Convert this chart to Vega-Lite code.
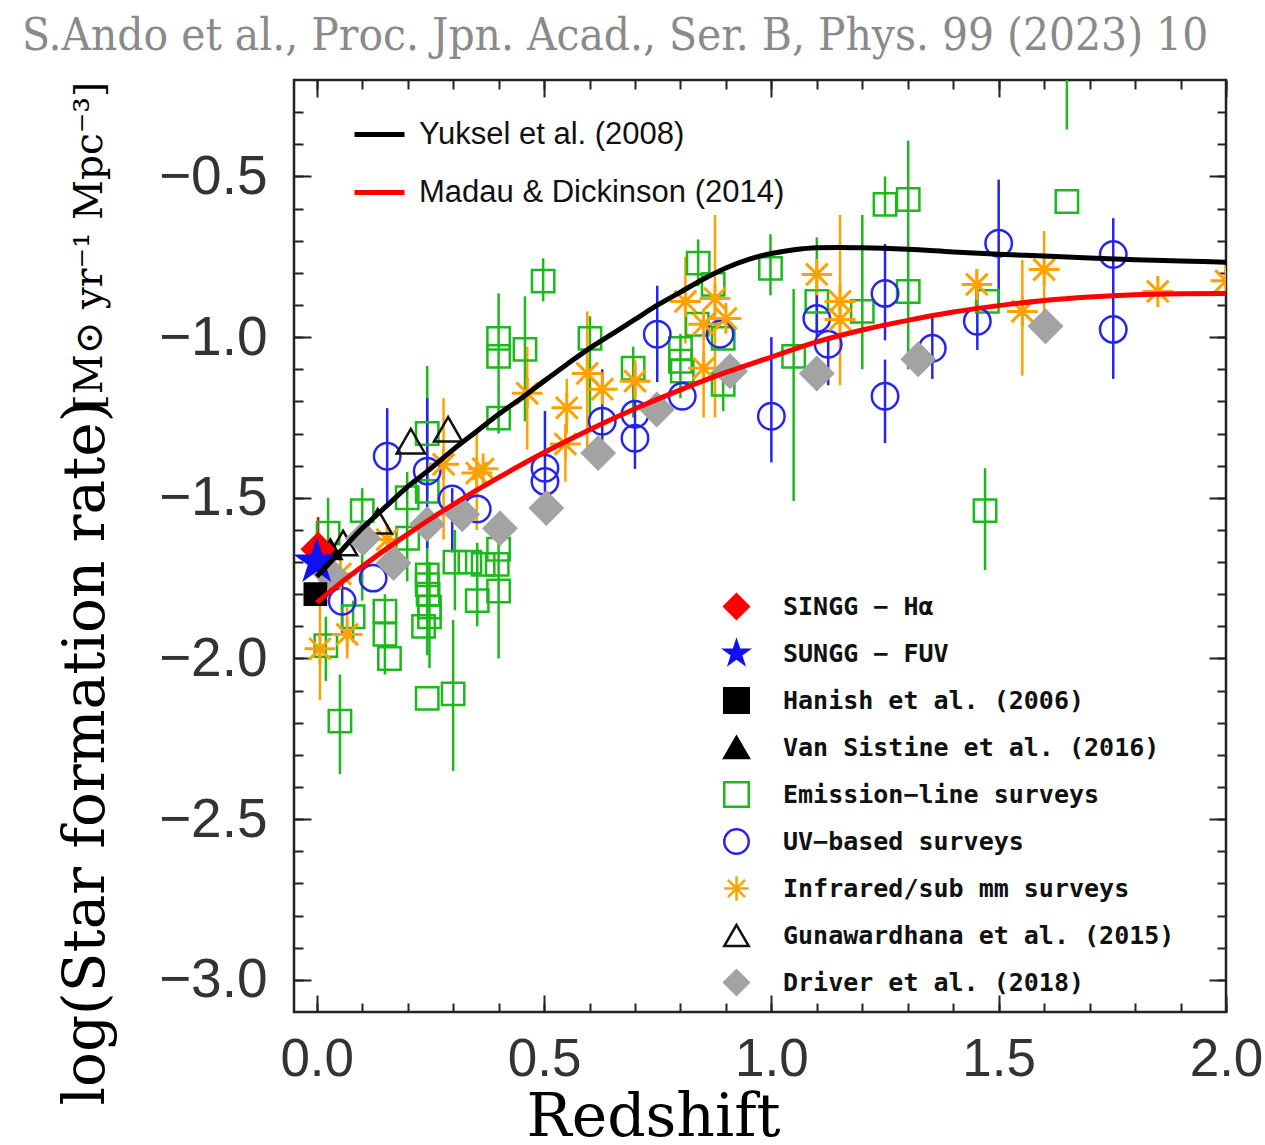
{
  "$schema": "https://vega.github.io/schema/vega-lite/v6.json",
  "autosize": {"type": "none"},
  "width": 932,
  "height": 932,
  "padding": {"left": 294, "top": 80, "right": 39, "bottom": 133},
  "background": "white",
  "title": {
    "text": "S.Ando et al., Proc. Jpn. Acad., Ser. B, Phys. 99 (2023) 10",
    "anchor": "start", "frame": "group", "dx": -272, "offset": 20,
    "font": "DejaVu Serif Condensed, DejaVu Serif", "fontSize": 45.5, "fontWeight": "normal", "color": "#8a8a8a"
  },
  "config": {
    "view": {"stroke": "#222", "strokeWidth": 2.5},
    "axis": {"grid": false, "domain": false, "tickColor": "#222", "tickWidth": 2}
  },
  "datasets": {
    "pts": [
      {"s": "Emission−line surveys", "z": 0.025, "y": -1.61, "hi": -1.5, "lo": -1.71},
      {"s": "Emission−line surveys", "z": 0.02, "y": -1.96, "hi": -1.87, "lo": -2.07},
      {"s": "Emission−line surveys", "z": 0.051, "y": -2.195, "hi": -2.05, "lo": -2.36},
      {"s": "Emission−line surveys", "z": 0.08, "y": -1.87, "hi": -1.82, "lo": -1.95},
      {"s": "Emission−line surveys", "z": 0.1, "y": -1.54, "hi": -1.47, "lo": -1.82},
      {"s": "Emission−line surveys", "z": 0.15, "y": -1.853, "hi": -1.8, "lo": -2.05},
      {"s": "Emission−line surveys", "z": 0.15, "y": -1.925},
      {"s": "Emission−line surveys", "z": 0.16, "y": -2.0},
      {"s": "Emission−line surveys", "z": 0.199, "y": -1.5, "hi": -1.42, "lo": -1.76},
      {"s": "Emission−line surveys", "z": 0.2, "y": -1.626},
      {"s": "Emission−line surveys", "z": 0.243, "y": -1.3, "hi": -1.09, "lo": -1.5},
      {"s": "Emission−line surveys", "z": 0.243, "y": -1.48},
      {"s": "Emission−line surveys", "z": 0.243, "y": -1.74, "hi": -1.6, "lo": -1.99},
      {"s": "Emission−line surveys", "z": 0.243, "y": -1.77},
      {"s": "Emission−line surveys", "z": 0.245, "y": -1.8},
      {"s": "Emission−line surveys", "z": 0.248, "y": -1.84, "hi": -1.7, "lo": -2.03},
      {"s": "Emission−line surveys", "z": 0.248, "y": -1.87},
      {"s": "Emission−line surveys", "z": 0.235, "y": -1.9},
      {"s": "Emission−line surveys", "z": 0.243, "y": -2.124},
      {"s": "Emission−line surveys", "z": 0.3, "y": -2.11, "hi": -1.88, "lo": -2.35},
      {"s": "Emission−line surveys", "z": 0.304, "y": -1.7, "hi": -1.6, "lo": -1.85},
      {"s": "Emission−line surveys", "z": 0.337, "y": -1.7},
      {"s": "Emission−line surveys", "z": 0.353, "y": -1.82, "hi": -1.64, "lo": -1.9},
      {"s": "Emission−line surveys", "z": 0.366, "y": -1.707},
      {"s": "Emission−line surveys", "z": 0.397, "y": -1.707},
      {"s": "Emission−line surveys", "z": 0.4, "y": -1.66, "hi": -1.62, "lo": -2.0},
      {"s": "Emission−line surveys", "z": 0.4, "y": -1.79},
      {"s": "Emission−line surveys", "z": 0.4, "y": -1.252},
      {"s": "Emission−line surveys", "z": 0.4, "y": -1.004, "hi": -0.864, "lo": -1.3},
      {"s": "Emission−line surveys", "z": 0.4, "y": -1.06},
      {"s": "Emission−line surveys", "z": 0.458, "y": -1.038, "hi": -0.873, "lo": -1.262},
      {"s": "Emission−line surveys", "z": 0.498, "y": -0.826, "hi": -0.755, "lo": -0.889},
      {"s": "Emission−line surveys", "z": 0.601, "y": -1.004, "hi": -0.935, "lo": -1.252},
      {"s": "Emission−line surveys", "z": 0.696, "y": -1.097, "hi": -1.03, "lo": -1.25},
      {"s": "Emission−line surveys", "z": 0.8, "y": -1.035, "hi": -0.99, "lo": -1.19},
      {"s": "Emission−line surveys", "z": 0.8, "y": -1.075},
      {"s": "Emission−line surveys", "z": 0.804, "y": -1.106},
      {"s": "Emission−line surveys", "z": 0.839, "y": -0.77, "hi": -0.696, "lo": -0.842},
      {"s": "Emission−line surveys", "z": 0.837, "y": -0.96},
      {"s": "Emission−line surveys", "z": 0.872, "y": -0.836},
      {"s": "Emission−line surveys", "z": 0.894, "y": -1.004},
      {"s": "Emission−line surveys", "z": 0.894, "y": -1.147, "hi": -1.085, "lo": -1.23},
      {"s": "Emission−line surveys", "z": 0.998, "y": -0.786, "hi": -0.68, "lo": -0.87},
      {"s": "Emission−line surveys", "z": 1.049, "y": -1.06, "hi": -0.85, "lo": -1.51},
      {"s": "Emission−line surveys", "z": 1.1, "y": -0.889, "hi": -0.69, "lo": -0.98},
      {"s": "Emission−line surveys", "z": 1.2, "y": -0.92, "hi": -0.62, "lo": -1.1},
      {"s": "Emission−line surveys", "z": 1.25, "y": -0.587, "hi": -0.5, "lo": -0.62},
      {"s": "Emission−line surveys", "z": 1.301, "y": -0.572, "hi": -0.389, "lo": -1.1},
      {"s": "Emission−line surveys", "z": 1.301, "y": -0.858},
      {"s": "Emission−line surveys", "z": 1.475, "y": -0.889},
      {"s": "Emission−line surveys", "z": 1.47, "y": -1.54, "hi": -1.408, "lo": -1.725},
      {"s": "Emission−line surveys", "z": 1.65, "y": -0.578},
      {"s": "Emission−line surveys", "z": 1.65, "y": -0.05, "hi": 0.0, "lo": -0.354},
      {"s": "UV−based surveys", "z": 0.056, "y": -1.822, "hi": -1.76, "lo": -1.92},
      {"s": "UV−based surveys", "z": 0.124, "y": -1.75},
      {"s": "UV−based surveys", "z": 0.155, "y": -1.371, "hi": -1.221, "lo": -1.532},
      {"s": "UV−based surveys", "z": 0.243, "y": -1.417, "hi": -1.19, "lo": -1.657},
      {"s": "UV−based surveys", "z": 0.298, "y": -1.504, "hi": -1.47, "lo": -1.67},
      {"s": "UV−based surveys", "z": 0.353, "y": -1.535},
      {"s": "UV−based surveys", "z": 0.502, "y": -1.408, "hi": -1.23, "lo": -1.54},
      {"s": "UV−based surveys", "z": 0.502, "y": -1.449},
      {"s": "UV−based surveys", "z": 0.628, "y": -1.262, "hi": -1.1, "lo": -1.4},
      {"s": "UV−based surveys", "z": 0.7, "y": -1.24, "hi": -1.08, "lo": -1.41},
      {"s": "UV−based surveys", "z": 0.7, "y": -1.315},
      {"s": "UV−based surveys", "z": 0.804, "y": -1.184},
      {"s": "UV−based surveys", "z": 0.749, "y": -0.991, "hi": -0.84, "lo": -1.14},
      {"s": "UV−based surveys", "z": 0.887, "y": -0.991},
      {"s": "UV−based surveys", "z": 1.0, "y": -1.246, "hi": -1.0, "lo": -1.39},
      {"s": "UV−based surveys", "z": 1.1, "y": -0.942, "hi": -0.86, "lo": -1.0},
      {"s": "UV−based surveys", "z": 1.125, "y": -1.022, "hi": -1.0, "lo": -1.15},
      {"s": "UV−based surveys", "z": 1.25, "y": -0.864, "hi": -0.71, "lo": -1.01},
      {"s": "UV−based surveys", "z": 1.25, "y": -1.184, "hi": -1.07, "lo": -1.33},
      {"s": "UV−based surveys", "z": 1.354, "y": -1.035, "hi": -0.94, "lo": -1.13},
      {"s": "UV−based surveys", "z": 1.453, "y": -0.951, "hi": -0.86, "lo": -1.04},
      {"s": "UV−based surveys", "z": 1.5, "y": -0.708, "hi": -0.51, "lo": -0.9},
      {"s": "UV−based surveys", "z": 1.752, "y": -0.743, "hi": -0.63, "lo": -1.13},
      {"s": "UV−based surveys", "z": 1.752, "y": -0.976},
      {"s": "Infrared/sub mm surveys", "z": 0.007, "y": -1.97, "hi": -1.73, "lo": -2.13},
      {"s": "Infrared/sub mm surveys", "z": 0.067, "y": -1.925, "hi": -1.84, "lo": -2.0},
      {"s": "Infrared/sub mm surveys", "z": 0.052, "y": -1.737},
      {"s": "Infrared/sub mm surveys", "z": 0.155, "y": -1.63},
      {"s": "Infrared/sub mm surveys", "z": 0.279, "y": -1.396, "hi": -1.19, "lo": -1.63},
      {"s": "Infrared/sub mm surveys", "z": 0.352, "y": -1.423, "hi": -1.29, "lo": -1.6},
      {"s": "Infrared/sub mm surveys", "z": 0.366, "y": -1.41},
      {"s": "Infrared/sub mm surveys", "z": 0.547, "y": -1.333, "hi": -1.27, "lo": -1.45},
      {"s": "Infrared/sub mm surveys", "z": 0.55, "y": -1.22, "hi": -1.13, "lo": -1.3},
      {"s": "Infrared/sub mm surveys", "z": 0.463, "y": -1.175, "hi": -1.03, "lo": -1.35},
      {"s": "Infrared/sub mm surveys", "z": 0.595, "y": -1.113, "hi": -0.92, "lo": -1.35},
      {"s": "Infrared/sub mm surveys", "z": 0.628, "y": -1.162},
      {"s": "Infrared/sub mm surveys", "z": 0.7, "y": -1.137, "hi": -1.07, "lo": -1.2},
      {"s": "Infrared/sub mm surveys", "z": 0.811, "y": -0.889, "hi": -0.75, "lo": -1.02},
      {"s": "Infrared/sub mm surveys", "z": 0.851, "y": -0.96},
      {"s": "Infrared/sub mm surveys", "z": 0.876, "y": -0.88, "hi": -0.62, "lo": -1.25},
      {"s": "Infrared/sub mm surveys", "z": 0.9, "y": -0.942},
      {"s": "Infrared/sub mm surveys", "z": 0.851, "y": -1.097, "hi": -1.0, "lo": -1.25},
      {"s": "Infrared/sub mm surveys", "z": 1.1, "y": -0.805, "hi": -0.76, "lo": -0.87},
      {"s": "Infrared/sub mm surveys", "z": 1.151, "y": -0.889, "hi": -0.62, "lo": -1.15},
      {"s": "Infrared/sub mm surveys", "z": 1.151, "y": -0.945},
      {"s": "Infrared/sub mm surveys", "z": 1.452, "y": -0.836, "hi": -0.79, "lo": -0.9},
      {"s": "Infrared/sub mm surveys", "z": 1.552, "y": -0.92, "hi": -0.76, "lo": -1.12},
      {"s": "Infrared/sub mm surveys", "z": 1.6, "y": -0.79, "hi": -0.67, "lo": -0.95},
      {"s": "Infrared/sub mm surveys", "z": 1.85, "y": -0.858},
      {"s": "Infrared/sub mm surveys", "z": 2.0, "y": -0.825},
      {"s": "Gunawardhana et al. (2015)", "z": 0.058, "y": -1.641},
      {"s": "Gunawardhana et al. (2015)", "z": 0.134, "y": -1.573},
      {"s": "Gunawardhana et al. (2015)", "z": 0.207, "y": -1.324},
      {"s": "Gunawardhana et al. (2015)", "z": 0.289, "y": -1.287},
      {"s": "Driver et al. (2018)", "z": 0.03, "y": -1.738},
      {"s": "Driver et al. (2018)", "z": 0.102, "y": -1.626},
      {"s": "Driver et al. (2018)", "z": 0.169, "y": -1.703},
      {"s": "Driver et al. (2018)", "z": 0.243, "y": -1.582},
      {"s": "Driver et al. (2018)", "z": 0.32, "y": -1.551},
      {"s": "Driver et al. (2018)", "z": 0.403, "y": -1.595},
      {"s": "Driver et al. (2018)", "z": 0.505, "y": -1.532},
      {"s": "Driver et al. (2018)", "z": 0.619, "y": -1.361},
      {"s": "Driver et al. (2018)", "z": 0.748, "y": -1.225},
      {"s": "Driver et al. (2018)", "z": 0.909, "y": -1.106},
      {"s": "Driver et al. (2018)", "z": 1.1, "y": -1.113},
      {"s": "Driver et al. (2018)", "z": 1.323, "y": -1.069},
      {"s": "Driver et al. (2018)", "z": 1.603, "y": -0.966},
      {"s": "Van Sistine et al. (2016)", "z": 0.03, "y": -1.66},
      {"s": "SINGG − Hα", "z": 0.003, "y": -1.66, "hi": -1.56, "lo": -1.75},
      {"s": "SUNGG − FUV", "z": 0.0, "y": -1.7},
      {"s": "Hanish et al. (2006)", "z": -0.003, "y": -1.8}
    ],
    "curves": [
      {"m": "Yuksel et al. (2008)", "z": 0, "y": -1.745},
      {"m": "Yuksel et al. (2008)", "z": 0.05, "y": -1.67},
      {"m": "Yuksel et al. (2008)", "z": 0.1, "y": -1.595},
      {"m": "Yuksel et al. (2008)", "z": 0.15, "y": -1.53},
      {"m": "Yuksel et al. (2008)", "z": 0.2, "y": -1.465},
      {"m": "Yuksel et al. (2008)", "z": 0.25, "y": -1.41},
      {"m": "Yuksel et al. (2008)", "z": 0.3, "y": -1.35},
      {"m": "Yuksel et al. (2008)", "z": 0.35, "y": -1.295},
      {"m": "Yuksel et al. (2008)", "z": 0.4, "y": -1.24},
      {"m": "Yuksel et al. (2008)", "z": 0.45, "y": -1.19},
      {"m": "Yuksel et al. (2008)", "z": 0.5, "y": -1.137},
      {"m": "Yuksel et al. (2008)", "z": 0.55, "y": -1.085},
      {"m": "Yuksel et al. (2008)", "z": 0.6, "y": -1.035},
      {"m": "Yuksel et al. (2008)", "z": 0.65, "y": -0.99},
      {"m": "Yuksel et al. (2008)", "z": 0.7, "y": -0.945},
      {"m": "Yuksel et al. (2008)", "z": 0.75, "y": -0.9},
      {"m": "Yuksel et al. (2008)", "z": 0.8, "y": -0.86},
      {"m": "Yuksel et al. (2008)", "z": 0.85, "y": -0.82},
      {"m": "Yuksel et al. (2008)", "z": 0.9, "y": -0.785},
      {"m": "Yuksel et al. (2008)", "z": 0.95, "y": -0.758},
      {"m": "Yuksel et al. (2008)", "z": 1.0, "y": -0.74},
      {"m": "Yuksel et al. (2008)", "z": 1.05, "y": -0.728},
      {"m": "Yuksel et al. (2008)", "z": 1.1, "y": -0.722},
      {"m": "Yuksel et al. (2008)", "z": 1.15, "y": -0.721},
      {"m": "Yuksel et al. (2008)", "z": 1.2, "y": -0.722},
      {"m": "Yuksel et al. (2008)", "z": 1.3, "y": -0.727},
      {"m": "Yuksel et al. (2008)", "z": 1.4, "y": -0.735},
      {"m": "Yuksel et al. (2008)", "z": 1.5, "y": -0.742},
      {"m": "Yuksel et al. (2008)", "z": 1.6, "y": -0.748},
      {"m": "Yuksel et al. (2008)", "z": 1.7, "y": -0.754},
      {"m": "Yuksel et al. (2008)", "z": 1.8, "y": -0.759},
      {"m": "Yuksel et al. (2008)", "z": 1.9, "y": -0.763},
      {"m": "Yuksel et al. (2008)", "z": 2.0, "y": -0.767},
      {"m": "Madau & Dickinson (2014)", "z": 0, "y": -1.826},
      {"m": "Madau & Dickinson (2014)", "z": 0.05, "y": -1.768},
      {"m": "Madau & Dickinson (2014)", "z": 0.1, "y": -1.714},
      {"m": "Madau & Dickinson (2014)", "z": 0.15, "y": -1.662},
      {"m": "Madau & Dickinson (2014)", "z": 0.2, "y": -1.613},
      {"m": "Madau & Dickinson (2014)", "z": 0.25, "y": -1.566},
      {"m": "Madau & Dickinson (2014)", "z": 0.3, "y": -1.521},
      {"m": "Madau & Dickinson (2014)", "z": 0.35, "y": -1.478},
      {"m": "Madau & Dickinson (2014)", "z": 0.4, "y": -1.437},
      {"m": "Madau & Dickinson (2014)", "z": 0.45, "y": -1.397},
      {"m": "Madau & Dickinson (2014)", "z": 0.5, "y": -1.359},
      {"m": "Madau & Dickinson (2014)", "z": 0.6, "y": -1.288},
      {"m": "Madau & Dickinson (2014)", "z": 0.7, "y": -1.223},
      {"m": "Madau & Dickinson (2014)", "z": 0.8, "y": -1.164},
      {"m": "Madau & Dickinson (2014)", "z": 0.9, "y": -1.11},
      {"m": "Madau & Dickinson (2014)", "z": 1.0, "y": -1.062},
      {"m": "Madau & Dickinson (2014)", "z": 1.1, "y": -1.015},
      {"m": "Madau & Dickinson (2014)", "z": 1.2, "y": -0.978},
      {"m": "Madau & Dickinson (2014)", "z": 1.3, "y": -0.948},
      {"m": "Madau & Dickinson (2014)", "z": 1.4, "y": -0.922},
      {"m": "Madau & Dickinson (2014)", "z": 1.5, "y": -0.902},
      {"m": "Madau & Dickinson (2014)", "z": 1.6, "y": -0.886},
      {"m": "Madau & Dickinson (2014)", "z": 1.7, "y": -0.875},
      {"m": "Madau & Dickinson (2014)", "z": 1.8, "y": -0.868},
      {"m": "Madau & Dickinson (2014)", "z": 1.9, "y": -0.865},
      {"m": "Madau & Dickinson (2014)", "z": 2.0, "y": -0.864}
    ]
  },
  "resolve": {"axis": {"x": "independent", "y": "independent"}},
  "layer": [
    {
      "data": {"name": "pts"},
      "transform": [{"filter": "isValid(datum.lo)"}],
      "mark": {"type": "rule", "strokeWidth": 2.5, "clip": true},
      "encoding": {
        "x": {"field": "z", "type": "quantitative",
          "scale": {"domain": [-0.05, 2.0], "nice": false, "zero": false},
          "axis": {"orient": "bottom", "values": [0, 0.5, 1, 1.5, 2], "format": ".1f", "tickSize": -17,
            "labelPadding": 38, "labelFont": "Liberation Sans", "labelFontSize": 53, "labelColor": "#333",
            "labelFlush": false, "labelOverlap": false,
            "title": "Redshift", "titleFont": "DejaVu Serif", "titleFontSize": 60, "titleFontWeight": "normal",
            "titleColor": "#000", "titleX": 359, "titleY": 123, "titleBaseline": "alphabetic", "titleAlign": "center"}},
        "y": {"field": "lo", "type": "quantitative",
          "scale": {"domain": [-3.1, -0.2], "nice": false, "zero": false},
          "axis": {"orient": "left", "values": [-3, -2.5, -2, -1.5, -1, -0.5], "format": ".1f", "tickSize": -17,
            "labelPadding": 44, "labelFont": "Liberation Sans", "labelFontSize": 55, "labelColor": "#333",
            "labelFlush": false, "labelOverlap": false,
            "title": "log(Star formation rate)", "titleFont": "DejaVu Serif", "titleFontSize": 58, "titleFontWeight": "normal",
            "titleColor": "#000", "titleAngle": 270, "titleX": -191, "titleY": 1025, "titleAlign": "left", "titleBaseline": "alphabetic", "titleLimit": 0}},
        "y2": {"field": "hi"},
        "stroke": {"field": "s", "type": "nominal",
          "scale": {
            "domain": ["SINGG − Hα", "SUNGG − FUV", "Hanish et al. (2006)", "Van Sistine et al. (2016)", "Emission−line surveys", "UV−based surveys", "Infrared/sub mm surveys", "Gunawardhana et al. (2015)", "Driver et al. (2018)"],
            "range": ["#ff0000", "#1010f0", "#000000", "#000000", "#1cb81c", "#2525ee", "#ffa200", "#111111", "#a3a3a3"]}}
      }
    },
    {
      "data": {"name": "pts"},
      "mark": {"type": "point", "opacity": 1, "clip": true},
      "encoding": {
        "x": {"field": "z", "type": "quantitative",
          "scale": {"domain": [-0.05, 2.0], "nice": false, "zero": false},
          "axis": {"orient": "top", "values": [0, 0.5, 1, 1.5, 2], "tickSize": -17, "labels": false, "title": null}},
        "y": {"field": "y", "type": "quantitative",
          "scale": {"domain": [-3.1, -0.2], "nice": false, "zero": false},
          "axis": {"orient": "right", "values": [-3, -2.5, -2, -1.5, -1, -0.5], "tickSize": -17, "labels": false, "title": null}},
        "shape": {"field": "s", "type": "nominal",
          "scale": {
            "domain": ["SINGG − Hα", "SUNGG − FUV", "Hanish et al. (2006)", "Van Sistine et al. (2016)", "Emission−line surveys", "UV−based surveys", "Infrared/sub mm surveys", "Gunawardhana et al. (2015)", "Driver et al. (2018)"],
            "range": ["diamond", "M0,-1L0.2245,-0.309L0.951,-0.309L0.363,0.118L0.588,0.809L0,0.382L-0.588,0.809L-0.363,0.118L-0.951,-0.309L-0.2245,-0.309Z", "square", "triangle-up", "square", "circle", "M-1,0L1,0M0,-1L0,1M-0.7,-0.7L0.7,0.7M-0.7,0.7L0.7,-0.7", "triangle-up", "diamond"]},
          "legend": {"orient": "none", "legendX": 429, "legendY": 513, "title": null, "padding": 0,
            "labelFont": "DejaVu Sans Mono", "labelFontSize": 25, "labelFontWeight": "bold", "labelColor": "#111", "labelOffset": 33, "labelLimit": 0,
            "symbolStrokeWidth": 2.5, "symbolSize": 600, "rowPadding": 12, "gridAlign": "all",
            "encode": {"symbols": {"update": {
              "fill": {"scale": "fill", "field": "value"},
              "stroke": {"scale": "stroke", "field": "value"},
              "strokeWidth": {"value": 2.5},
              "opacity": {"value": 1},
              "size": {"signal": "datum.value === 'SUNGG − FUV' ? 1250 : datum.value === 'SINGG − Hα' ? 800 : datum.value === 'Hanish et al. (2006)' ? 380 : datum.value === 'Van Sistine et al. (2016)' ? 420 : datum.value === 'Emission−line surveys' ? 360 : datum.value === 'UV−based surveys' ? 500 : datum.value === 'Infrared/sub mm surveys' ? 600 : datum.value === 'Gunawardhana et al. (2015)' ? 580 : 800"}}}}}},
        "fill": {"field": "s", "type": "nominal",
          "scale": {
            "domain": ["SINGG − Hα", "SUNGG − FUV", "Hanish et al. (2006)", "Van Sistine et al. (2016)", "Emission−line surveys", "UV−based surveys", "Infrared/sub mm surveys", "Gunawardhana et al. (2015)", "Driver et al. (2018)"],
            "range": ["#ff0000", "#1010f0", "#000000", "#000000", "transparent", "transparent", "transparent", "transparent", "#a3a3a3"]}},
        "stroke": {"field": "s", "type": "nominal",
          "scale": {
            "domain": ["SINGG − Hα", "SUNGG − FUV", "Hanish et al. (2006)", "Van Sistine et al. (2016)", "Emission−line surveys", "UV−based surveys", "Infrared/sub mm surveys", "Gunawardhana et al. (2015)", "Driver et al. (2018)"],
            "range": ["#ff0000", "#1010f0", "#000000", "#000000", "#1cb81c", "#2525ee", "#ffa200", "#111111", "#a3a3a3"]}},
        "strokeWidth": {
          "condition": {"test": "datum.s === 'Infrared/sub mm surveys'", "value": 3},
          "value": 2.5},
        "size": {
          "condition": [
            {"test": "datum.s === 'SUNGG − FUV'", "value": 1700},
            {"test": "datum.s === 'SINGG − Hα'", "value": 1000},
            {"test": "datum.s === 'Hanish et al. (2006)'", "value": 450},
            {"test": "datum.s === 'Van Sistine et al. (2016)'", "value": 500},
            {"test": "datum.s === 'Emission−line surveys'", "value": 500},
            {"test": "datum.s === 'UV−based surveys'", "value": 700},
            {"test": "datum.s === 'Infrared/sub mm surveys'", "value": 950},
            {"test": "datum.s === 'Gunawardhana et al. (2015)'", "value": 800}
          ],
          "value": 1050}
      }
    },
    {
      "data": {"name": "curves"},
      "transform": [{"filter": "datum.m === 'Yuksel et al. (2008)'"}],
      "mark": {"type": "line", "strokeWidth": 5, "interpolate": "monotone", "clip": true},
      "encoding": {
        "x": {"field": "z", "type": "quantitative",
          "scale": {"domain": [-0.05, 2.0], "nice": false, "zero": false},
          "axis": {"orient": "bottom", "values": [0, 0.1, 0.2, 0.3, 0.4, 0.5, 0.6, 0.7, 0.8, 0.9, 1, 1.1, 1.2, 1.3, 1.4, 1.5, 1.6, 1.7, 1.8, 1.9, 2], "tickSize": -9, "labels": false, "title": null}},
        "y": {"field": "y", "type": "quantitative",
          "scale": {"domain": [-3.1, -0.2], "nice": false, "zero": false},
          "axis": {"orient": "left", "values": [-3, -2.9, -2.8, -2.7, -2.6, -2.5, -2.4, -2.3, -2.2, -2.1, -2, -1.9, -1.8, -1.7, -1.6, -1.5, -1.4, -1.3, -1.2, -1.1, -1, -0.9, -0.8, -0.7, -0.6, -0.5, -0.4, -0.3], "tickSize": -9, "labels": false,
            "title": "[M⊙ yr⁻¹ Mpc⁻³]", "titleFont": "DejaVu Serif", "titleFontSize": 39, "titleFontWeight": "normal",
            "titleColor": "#000", "titleAngle": 270, "titleX": -193, "titleY": 329, "titleAlign": "left", "titleBaseline": "alphabetic", "titleLimit": 0}},
        "color": {"field": "m", "type": "nominal",
          "scale": {"domain": ["Yuksel et al. (2008)", "Madau & Dickinson (2014)"], "range": ["#000000", "#ff0000"]},
          "legend": {"orient": "none", "legendX": 58, "legendY": 27, "title": null, "padding": 0,
            "symbolType": "stroke", "symbolStrokeWidth": 5, "symbolSize": 2500,
            "labelFont": "Liberation Sans", "labelFontSize": 31, "labelColor": "#111", "labelOffset": 12, "labelLimit": 0, "rowPadding": 15}}
      }
    },
    {
      "data": {"name": "curves"},
      "transform": [{"filter": "datum.m === 'Madau & Dickinson (2014)'"}],
      "mark": {"type": "line", "strokeWidth": 5, "interpolate": "monotone", "clip": true},
      "encoding": {
        "x": {"field": "z", "type": "quantitative",
          "scale": {"domain": [-0.05, 2.0], "nice": false, "zero": false},
          "axis": {"orient": "top", "values": [0, 0.1, 0.2, 0.3, 0.4, 0.5, 0.6, 0.7, 0.8, 0.9, 1, 1.1, 1.2, 1.3, 1.4, 1.5, 1.6, 1.7, 1.8, 1.9, 2], "tickSize": -9, "labels": false, "title": null}},
        "y": {"field": "y", "type": "quantitative",
          "scale": {"domain": [-3.1, -0.2], "nice": false, "zero": false},
          "axis": {"orient": "right", "values": [-3, -2.9, -2.8, -2.7, -2.6, -2.5, -2.4, -2.3, -2.2, -2.1, -2, -1.9, -1.8, -1.7, -1.6, -1.5, -1.4, -1.3, -1.2, -1.1, -1, -0.9, -0.8, -0.7, -0.6, -0.5, -0.4, -0.3], "tickSize": -9, "labels": false, "title": null}},
        "color": {"field": "m", "type": "nominal",
          "scale": {"domain": ["Yuksel et al. (2008)", "Madau & Dickinson (2014)"], "range": ["#000000", "#ff0000"]}}
      }
    }
  ]
}
